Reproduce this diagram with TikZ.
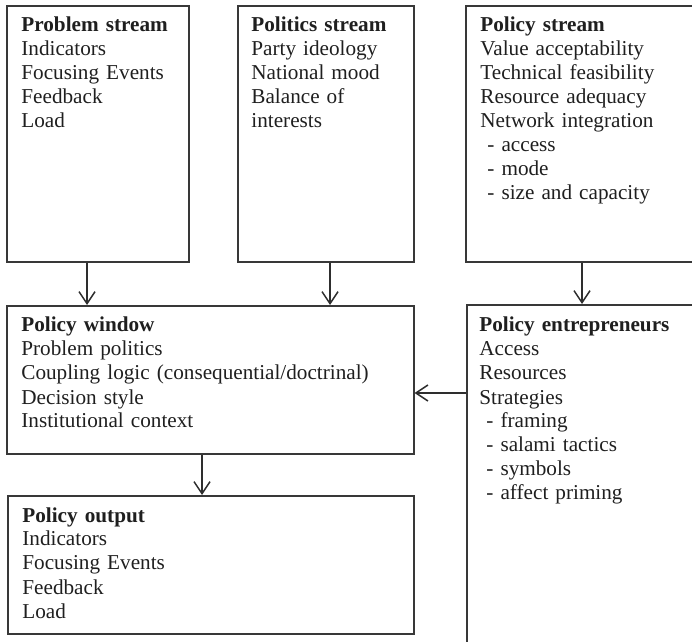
\documentclass[tikz,border=0pt]{standalone}
\usepackage{fontspec}
\setmainfont{Liberation Serif}
\usetikzlibrary{arrows.meta}
\begin{document}
\begin{tikzpicture}[x=0.5pt,y=-0.5pt,
  box/.style={draw=black!78, line width=0.8pt, rectangle, inner sep=0pt, anchor=north west},
  boxtext/.style={anchor=base west, inner sep=0pt, text width=200pt, align=left,
    text=black!88, font=\fontsize{10.6}{12}\selectfont},
  arr/.style={draw=black!82, line width=0.75pt, -{Straight Barb[length=6pt,width=8pt]}}]
\useasboundingbox (0,0) rectangle (692,642);

% the three streams
\node[box, minimum width=91pt, minimum height=128pt] (prob) at (6,5) {};
\node[boxtext] (probtxt) at (21,32) {\textbf{Problem stream}\\Indicators\\Focusing Events\\Feedback\\Load};

\node[box, minimum width=88pt, minimum height=128pt] (pol) at (237,5) {};
\node[boxtext] (poltxt) at (251,32) {\textbf{Politics stream}\\Party ideology\\National mood\\Balance of\\interests};

\node[box, minimum width=115pt, minimum height=128pt] (pst) at (465,5) {};
\node[boxtext] (psttxt) at (480,32) {\textbf{Policy stream}\\Value acceptability\\Technical feasibility\\Resource adequacy\\Network integration\\
  \hspace*{3.5pt}- access\\\hspace*{3.5pt}- mode\\\hspace*{3.5pt}- size and capacity};

% window, entrepreneurs and output
\node[box, minimum width=203.5pt, minimum height=74pt] (win) at (6,305) {};
\node[boxtext] (wintxt) at (21,332) {\textbf{Policy window}\\Problem politics\\Coupling logic (consequential/doctrinal)\\Decision style\\Institutional context};

\node[box, minimum width=115pt, minimum height=176pt] (ent) at (466,304) {};
\node[boxtext] (enttxt) at (479,332) {\textbf{Policy entrepreneurs}\\Access\\Resources\\Strategies\\
  \hspace*{3.5pt}- framing\\\hspace*{3.5pt}- salami tactics\\\hspace*{3.5pt}- symbols\\\hspace*{3.5pt}- affect priming};

\node[box, minimum width=203pt, minimum height=69pt] (out) at (7,495) {};
\node[boxtext] (outtxt) at (22,522) {\textbf{Policy output}\\Indicators\\Focusing Events\\Feedback\\Load};

% connectors
\coordinate (xa) at (87,0);
\coordinate (xb) at (330,0);
\coordinate (xc) at (582,0);
\coordinate (xd) at (202,0);
\coordinate (ya) at (0,393);
\draw[arr] (prob.south -| xa) -- (win.north -| xa);
\draw[arr] (pol.south -| xb) -- (win.north -| xb);
\draw[arr] (pst.south -| xc) -- (ent.north -| xc);
\draw[arr] (ent.west |- ya) -- (win.east |- ya);
\draw[arr] (win.south -| xd) -- (out.north -| xd);
\end{tikzpicture}
\end{document}
